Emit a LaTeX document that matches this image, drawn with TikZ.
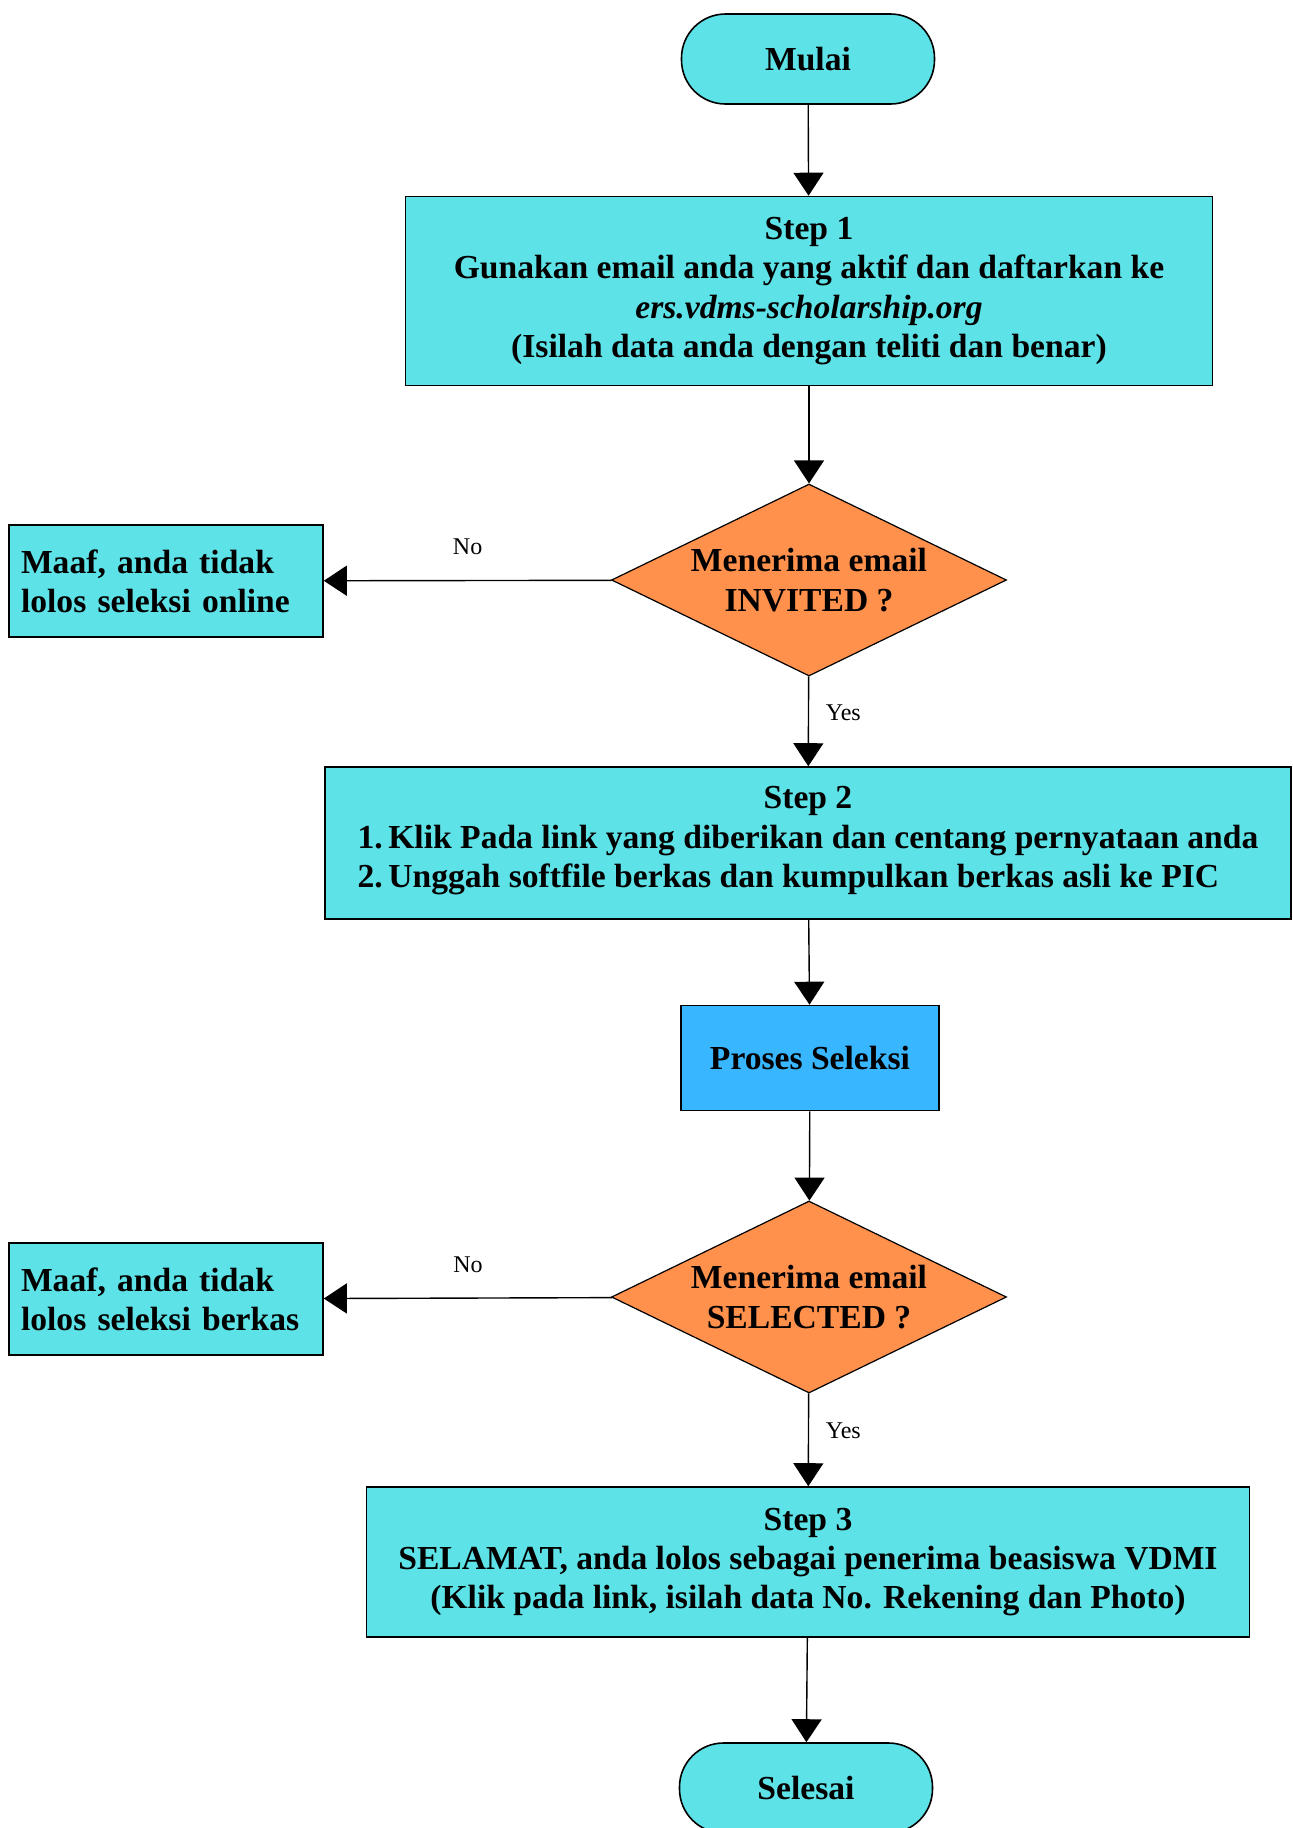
\documentclass[tikz,border=0pt]{standalone}
\usepackage{fontspec}
\setmainfont{Liberation Serif}
\usetikzlibrary{shapes.geometric,arrows.meta}

\definecolor{boxcyan}{HTML}{5DE2E7}
\definecolor{decorange}{HTML}{FF914D}
\definecolor{selblue}{HTML}{38B6FF}

\tikzset{
    base node/.style={
        draw=black,line width=.8pt,
        font=\bfseries\fontsize{16.8}{19.6}\selectfont,
        align=center,inner sep=0pt
    },
    process box/.style={base node,fill=boxcyan},
    select box/.style={base node,fill=selblue},
    terminal/.style={
        base node,fill=boxcyan,
        minimum width=126.5pt,minimum height=45pt,rounded corners=22pt
    },
    decision/.style={
        base node,fill=decorange,diamond,aspect=2,line width=.6pt,
        minimum width=197.5pt,minimum height=96pt
    },
    fail box/.style={
        process box,align=left,text width=145pt,inner xsep=6pt,
        minimum height=56pt
    },
    flow arrow/.style={-{Triangle[width=15pt,length=11.5pt]},line width=.7pt},
    branch label/.style={font=\fontsize{12}{14}\selectfont}
}

\begin{document}
\begin{tikzpicture}[x=0.5pt,y=-0.5pt]
    \useasboundingbox (0,0) rectangle (1292,1828);
    \node[terminal] (mulai) at (808,59) {Mulai};
    \node[process box,minimum width=403.5pt,minimum height=94.5pt] (step1) at (809,291)
        {Step 1\\ Gunakan email anda yang aktif dan daftarkan ke\\
         \textit{ers.vdms-scholarship.org}\\ (Isilah data anda dengan teliti dan benar)};
    \node[decision] (invited) at (809,580) {Menerima email\\ INVITED ?};
    \node[fail box] (gagal1) at (166,581) {Maaf, anda tidak\\ lolos seleksi online};
    \node[process box,minimum width=483pt,minimum height=76pt] (step2) at (808,843)
        {Step 2\\[1.5pt] \begin{tabular}{@{}l@{}}1.\,Klik Pada link yang diberikan dan centang pernyataan anda\\
         2.\,Unggah softfile berkas dan kumpulkan berkas asli ke PIC\end{tabular}};
    \node[select box,minimum width=129pt,minimum height=52.5pt] (proses) at (810,1058) {Proses Seleksi};
    \node[decision] (selected) at (809,1297) {Menerima email\\ SELECTED ?};
    \node[fail box] (gagal2) at (166,1299) {Maaf, anda tidak\\ lolos seleksi berkas};
    \node[process box,minimum width=441.5pt,minimum height=75pt] (step3) at (808,1562)
        {Step 3\\ SELAMAT, anda lolos sebagai penerima beasiswa VDMI\\
         (Klik pada link, isilah data No. Rekening dan Photo)};
    \node[terminal] (selesai) at (806,1788) {Selesai};

    \draw[flow arrow] (mulai) -- (step1);
    \draw[flow arrow] (step1) -- (invited);
    \draw[flow arrow] (invited) -- node[branch label,above=9pt] {No} (gagal1);
    \draw[flow arrow] (invited) -- node[branch label,right=5pt,pos=.4] {Yes} (step2);
    \draw[flow arrow] (step2) -- (proses);
    \draw[flow arrow] (proses) -- (selected);
    \draw[flow arrow] (selected) -- node[branch label,above=9pt] {No} (gagal2);
    \draw[flow arrow] (selected) -- node[branch label,right=5pt,pos=.4] {Yes} (step3);
    \draw[flow arrow] (step3) -- (selesai);
\end{tikzpicture}
\end{document}
